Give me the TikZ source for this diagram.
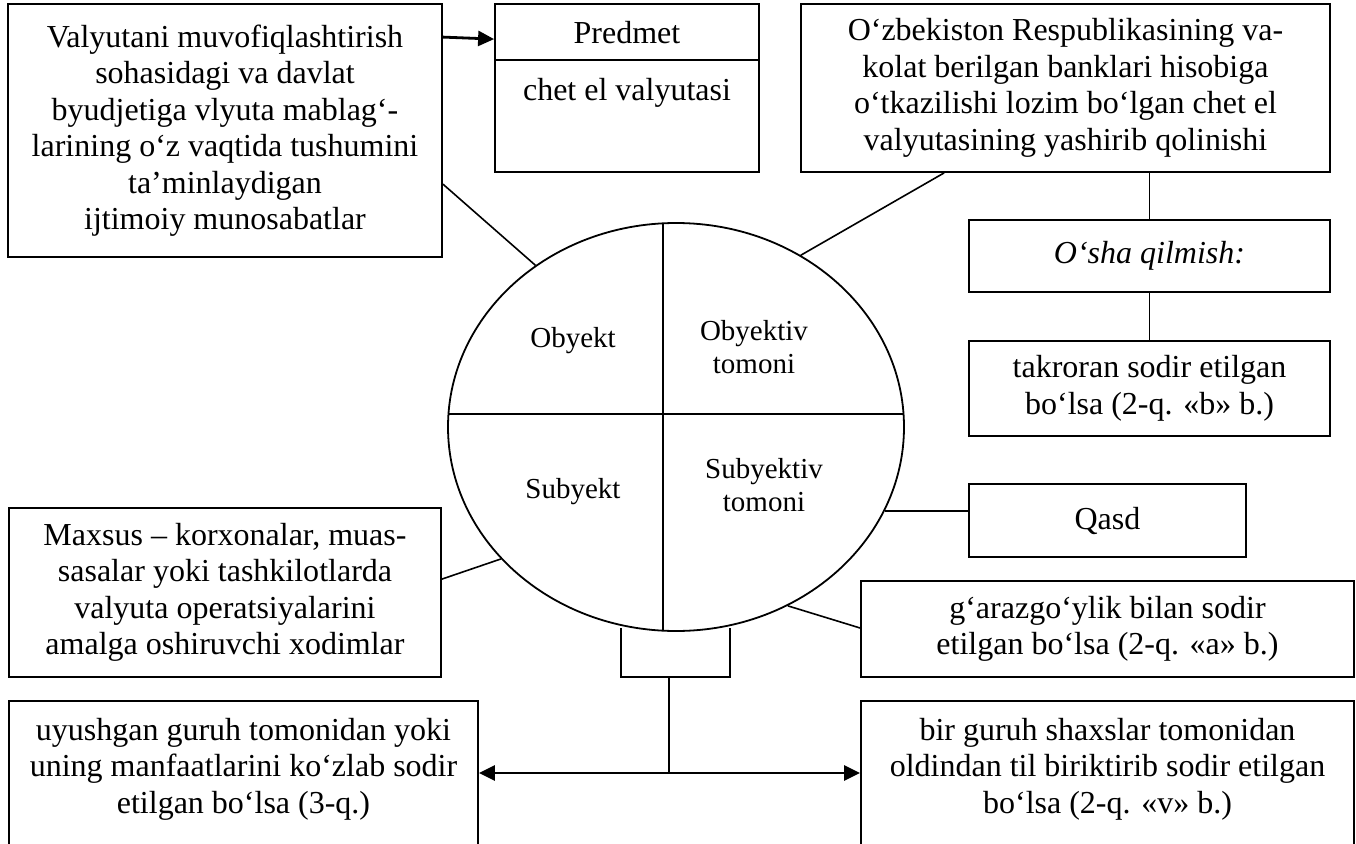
\documentclass[tikz,border=0pt]{standalone}
\usepackage{fontspec}
\setmainfont{Liberation Serif}
\usetikzlibrary{shapes.geometric,arrows.meta}
\begin{document}
\begin{tikzpicture}[x=1pt,y=-1pt,
  box/.style={draw,line width=1.8pt,inner sep=0pt,align=center,font=\fontsize{32}{36.5}\selectfont},
  txt/.style={inner sep=0pt,align=center,font=\fontsize{32}{36.5}\selectfont},
  conn/.style={line width=1.6pt},
  arr/.style={line width=2.8pt,-{Triangle[length=16pt,width=15pt]}},
  arrs/.style={line width=2.8pt,{Triangle[length=16pt,width=15pt]}-{Triangle[length=16pt,width=15pt]}},
  etxt/.style={inner sep=0pt,align=center,font=\fontsize{29}{33}\selectfont}]
\useasboundingbox (0,0) rectangle (1356,843);
\clip (0,0) rectangle (1356,843);
\fill[white] (0,0) rectangle (1356,843);

% boxes
\node[box,minimum width=434pt,minimum height=253pt] (tl) at (225,130.5) {Valyutani muvofiqlashtirish\\sohasidagi va davlat\\byudjetiga vlyuta mablag‘-\\larining o‘z vaqtida tushumini\\ta’minlaydigan\\ijtimoiy munosabatlar};

\node[box,minimum width=264pt,minimum height=168pt] (pm) at (627,88) {};
\node[txt] (pmh) at (627,33) {Predmet};
\node[txt] (pmt) at (627,93) {chet el valyutasi};
\draw[conn] ([yshift=-57pt]pm.north west) -- ([yshift=-57pt]pm.north east);

\node[box,minimum width=529pt,minimum height=168pt] (tr) at (1065.5,88) {O‘zbekiston Respublikasining va-\\kolat berilgan banklari hisobiga\\o‘tkazilishi lozim bo‘lgan chet el\\valyutasining yashirib qolinishi};

\node[box,minimum width=361pt,minimum height=72pt] (os) at (1149.5,256) {\itshape O‘sha qilmish:};
\node[box,minimum width=361pt,minimum height=95pt] (tk) at (1149.5,388.5) {takroran sodir etilgan\\bo‘lsa (2-q. «b» b.)};
\node[box,minimum width=277pt,minimum height=73pt] (qs) at (1107.5,520.5) {Qasd};
\node[box,minimum width=493pt,minimum height=96pt] (ga) at (1107.5,629) {g‘arazgo‘ylik bilan sodir\\etilgan bo‘lsa (2-q. «a» b.)};
\node[box,minimum width=493pt,minimum height=200pt] (br) at (1107.5,801) {};
\node[txt,anchor=north] (brt) at (1107.5,718) {bir guruh shaxslar tomonidan\\oldindan til biriktirib sodir etilgan\\bo‘lsa (2-q. «v» b.)};

\node[box,minimum width=432pt,minimum height=169pt] (mx) at (225,592.5) {Maxsus – korxonalar, muas-\\sasalar yoki tashkilotlarda\\valyuta operatsiyalarini\\amalga oshiruvchi xodimlar};
\node[box,minimum width=469pt,minimum height=200pt] (bl) at (243.5,801) {};
\node[txt,anchor=north] (blt) at (243.5,718) {uyushgan guruh tomonidan yoki\\uning manfaatlarini ko‘zlab sodir\\etilgan bo‘lsa (3-q.)};

% ellipse
\node[draw,ellipse,line width=1.8pt,minimum width=456pt,minimum height=408pt,inner sep=0pt] (ell) at (676,427) {};
\begin{scope}
\clip (676,427) ellipse [x radius=228pt,y radius=204pt];
\draw[line width=1.8pt] (663,200) -- (663,650);
\draw[line width=1.8pt] (430,414) -- (920,414);
\end{scope}
\node[etxt] (ob) at (573,341) {Obyekt};
\node[etxt] (obt) at (754,347) {Obyektiv\\tomoni};
\node[etxt] (sb) at (573,492) {Subyekt};
\node[etxt] (sbt) at (764,485) {Subyektiv\\tomoni};

% connectors
\draw[arr] ([yshift=-34pt]tl.north east) -- ([yshift=-36pt]pm.north west);
\draw[conn] ([yshift=-181pt]tl.north east) -- (ell.131.7);
\draw[conn] ([xshift=144pt]tr.south west) -- (ell.54.8);
\draw[conn] (os.north |- tr.south) -- (os.north);
\draw[conn] (os.south) -- (tk.north);
\draw[conn] (ell.338.7) -- (ell.338.7 -| qs.west);
\draw[conn] (ell.302.6) -- ([yshift=1pt]ga.west);
\draw[conn] ([yshift=-72pt]mx.north east) -- (ell.217);

\coordinate (bkl) at (621,628);
\coordinate (bkr) at (730,628);
\coordinate (bkb) at (669,677);
\coordinate (hub) at (669,773);
\draw[conn] (bkl) |- (bkr |- bkb) -- (bkr);
\draw[conn] (bkb) -- (hub);
\draw[arrs] (bl.east |- hub) -- (br.west |- hub);
\end{tikzpicture}
\end{document}
